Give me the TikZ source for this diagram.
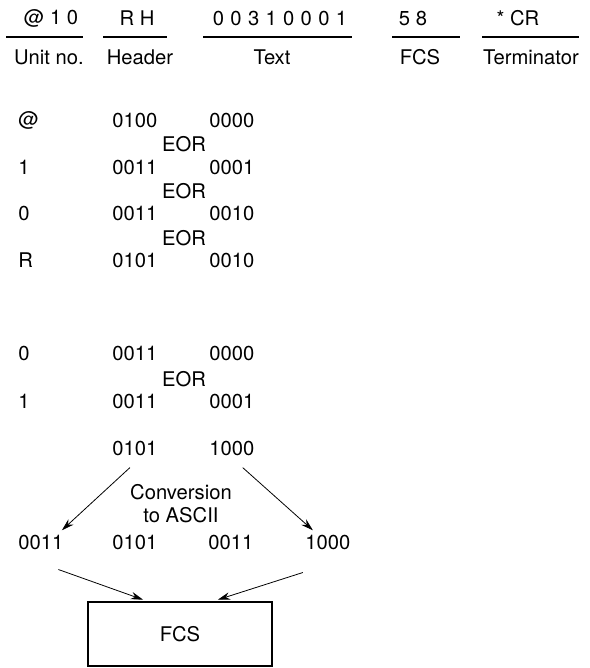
\documentclass[tikz,border=0pt]{standalone}
\usepackage{fontspec}
\setmainfont{TeX Gyre Heros}
\usetikzlibrary{arrows.meta, positioning}

\begin{document}
\begin{tikzpicture}[
    x=0.02cm, y=-0.02cm,
    font=\fontsize{11.5}{13}\selectfont,
    field/.style={inner sep=0},
    bits/.style={anchor=west, inner sep=0},
    eor/.style={inner sep=0},
    rule/.style={line width=0.7pt},
    arr/.style={-{Stealth[length=7pt,width=4.2pt]}, line width=0.45pt},
    fcsbox/.style={rectangle, draw=black, line width=0.6pt, minimum width=3.68cm, minimum height=1.28cm}
]
    \useasboundingbox (0,0) rectangle (589,668);

    % Frame fields
    \node[field] (unit)  at (51,18)  {@ 1 0};
    \node[field] (head)  at (137,18) {R H};
    \node[field] (text)  at (280,18) {0\hspace{3.6pt}0\hspace{3.6pt}3\hspace{3.6pt}1\hspace{3.6pt}0\hspace{3.6pt}0\hspace{3.6pt}0\hspace{3.6pt}1};
    \node[field] (fcs)   at (413,18) {5 8};
    \node[field] (term)  at (518,18) {* CR};

    \draw[rule] (6,37) -- (83,37);
    \draw[rule] (103,37) -- (167,37);
    \draw[rule] (203,37) -- (352,37);
    \draw[rule] (392,37) -- (460,37);
    \draw[rule] (482,37) -- (579,37);

    \node[field] (unitlbl) at (49,57)  {Unit no.};
    \node[field] (headlbl) at (140,57) {Header};
    \node[field] (textlbl) at (272,57) {Text};
    \node[field] (fcslbl)  at (420,57) {FCS};
    \node[field] (termlbl) at (531,57) {Terminator};

    % First block
    \node[bits] (a1) at (18,120)  {@};
    \node[bits] (a2) at (112,120) {0100};
    \node[bits] (a3) at (209,120) {0000};
    \node[eor]  (e1) at (184,144) {EOR};
    \node[bits] (b1) at (18,167)  {1};
    \node[bits] (b2) at (112,167) {0011};
    \node[bits] (b3) at (209,167) {0001};
    \node[eor]  (e2) at (184,191) {EOR};
    \node[bits] (c1) at (18,213)  {0};
    \node[bits] (c2) at (112,213) {0011};
    \node[bits] (c3) at (209,213) {0010};
    \node[eor]  (e3) at (184,238) {EOR};
    \node[bits] (d1) at (18,260)  {R};
    \node[bits] (d2) at (112,260) {0101};
    \node[bits] (d3) at (209,260) {0010};

    % Second block
    \node[bits] (f1) at (18,353)  {0};
    \node[bits] (f2) at (112,353) {0011};
    \node[bits] (f3) at (209,353) {0000};
    \node[eor]  (e4) at (184,379) {EOR};
    \node[bits] (g1) at (18,401)  {1};
    \node[bits] (g2) at (112,401) {0011};
    \node[bits] (g3) at (209,401) {0001};
    \node[bits] (h2) at (112,448) {0101};
    \node[bits] (h3) at (209,448) {1000};

    \node[align=center, inner sep=0] (conv) at (181,504) {Conversion\\to ASCII};

    % ASCII
    \node[bits] (s1) at (18,542)  {0011};
    \node[bits] (s2) at (112,542) {0101};
    \node[bits] (s3) at (208,542) {0011};
    \node[bits] (s4) at (305,542) {1000};

    \node[fcsbox] (box) at (180,634) {FCS};

    \draw[arr] ([xshift=-2.8pt,yshift=-6.8pt]h2.south) -- ([xshift=-1pt,yshift=2.3pt]s1.north east);
    \draw[arr] ([xshift=6.2pt,yshift=-6.8pt]h3.south) -- ([xshift=4.5pt,yshift=2.3pt]s4.north west);
    \draw[arr] ([xshift=10pt,yshift=-11.3pt]s1.south) -- ([xshift=-21pt,yshift=1pt]box.north);
    \draw[arr] ([xshift=-14.2pt,yshift=-13pt]s4.south) -- ([xshift=21.5pt,yshift=1pt]box.north);
\end{tikzpicture}
\end{document}
